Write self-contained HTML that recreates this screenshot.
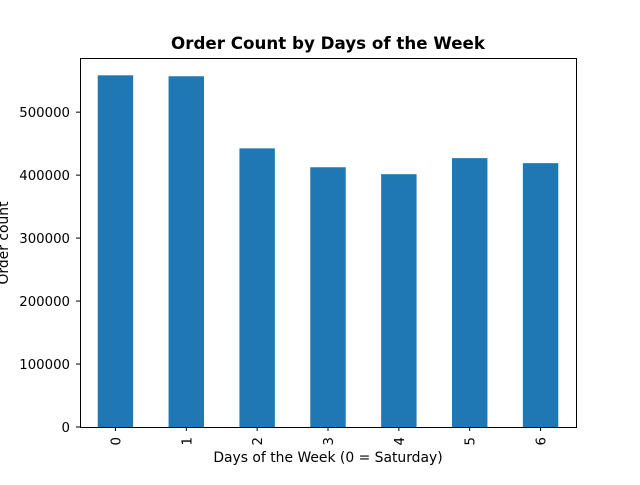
<!DOCTYPE html>
<html><head><meta charset="utf-8"><style>
body{margin:0;background:#fff}
svg{font-family:"DejaVu Sans","Liberation Sans",sans-serif}
</style></head><body>
<svg id="chart" width="640" height="480">
<text x="328" y="49" text-anchor="middle" font-size="16.7" font-weight="bold">Order Count by Days of the Week</text>
<text x="328" y="462" text-anchor="middle" font-size="13.9">Days of the Week (0 = Saturday)</text>
<text transform="translate(8,243) rotate(-90)" text-anchor="middle" font-size="13.9">Order count</text>
<g id="bars"></g><g id="ticks"></g>
<rect x="80.5" y="58.5" width="496" height="369" fill="none" stroke="#000" stroke-width="1"/>
</svg>
<script>
const categories=["0","1","2","3","4","5","6"];
const values=[558500,557000,442500,412500,401500,427000,419000];
const yTicks=[0,100000,200000,300000,400000,500000];
const L=80,R=576,T=58,B=427,yMax=586000;
const ns="http://www.w3.org/2000/svg";
const xs=i=>L+(i+0.5)*(R-L)/categories.length;
const ys=v=>B-v/yMax*(B-T);
const bw=0.5*(R-L)/categories.length;
const bars=document.getElementById('bars'),ticks=document.getElementById('ticks');
function mk(t,a,p){const e=document.createElementNS(ns,t);for(const k in a)e.setAttribute(k,a[k]);p.appendChild(e);return e;}
categories.forEach((c,i)=>{
 const r=mk('rect',{x:xs(i)-bw/2,y:ys(values[i]),width:bw,height:B-ys(values[i]),fill:'#1f77b4'},bars);
 
 
 mk('line',{x1:xs(i),x2:xs(i),y1:B,y2:B+4,stroke:'#000'},ticks);
 const t=mk('text',{transform:`translate(${xs(i)+5},${B+10}) rotate(-90)`,'text-anchor':'end','font-size':13.3},ticks);
 t.textContent=c;
 
 
});
yTicks.forEach(v=>{
 mk('line',{x1:L-4,x2:L,y1:ys(v),y2:ys(v),stroke:'#000'},ticks);
 const t=mk('text',{x:L-10,y:ys(v)+5,'text-anchor':'end','font-size':13.3},ticks);
 t.textContent=v;
 
 
});
</script>
</body></html>
